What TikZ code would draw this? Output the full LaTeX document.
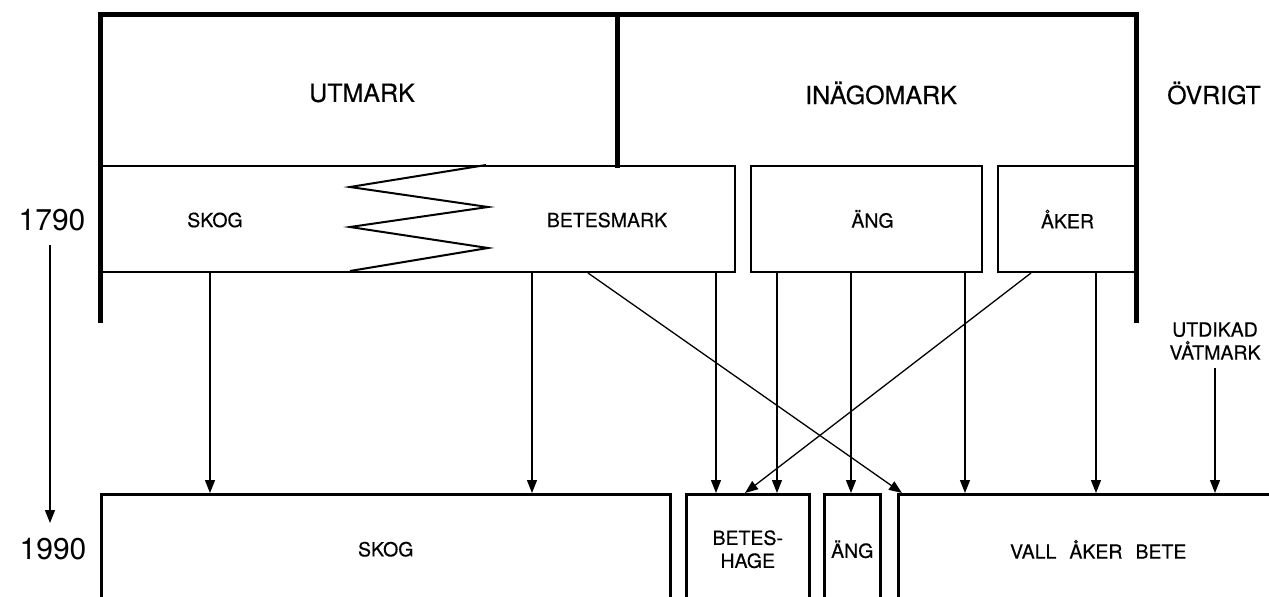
\documentclass[tikz,border=0pt]{standalone}
\usepackage{fontspec}
\setmainfont{TeX Gyre Heros}[FakeBold=0.4]
\newfontfamily\yearfont{TeX Gyre Heros}
\usetikzlibrary{arrows.meta}
\tikzset{
  big/.style={font=\fontsize{25}{28}\selectfont},
  lab/.style={font=\fontsize{19.5}{23}\selectfont},
  yr/.style={font=\yearfont\fontsize{30}{32}\selectfont},
  boxa/.style={draw, line width=2pt, inner sep=0pt, anchor=north west, lab},
  frame/.style={line width=5pt, line cap=rect},
  arr/.style={line width=1.3pt, -{Triangle[length=13pt,width=10pt]}},
  zig/.style={line width=2pt, line join=miter}
}
\begin{document}
\begin{tikzpicture}[x=1pt,y=-1pt]
\clip (0,0) rectangle (1269,597);
\fill[white] (0,0) rectangle (1269,597);
% top row boxes
\node[boxa, minimum width=634pt, minimum height=106pt] (row) at (100,165) {};
\node[boxa, minimum width=231pt, minimum height=106pt] (ang1) at (750,165) {\hspace{12pt}ÄNG};
\node[boxa, minimum width=139pt, minimum height=106pt] (aker) at (997,165) {ÅKER};
% zigzag
\draw[zig] (486,165) -- (350,187) -- (488,207) -- (350,227) -- (488,248) -- (350,271);
% thick frame
\draw[frame] (100,320) -- (100,14) -- (1136,14) -- (1136,320);
\draw[frame] (617,14) -- (617,165);
% labels
\node[big] (utmark) at (362,93) {UTMARK};
\node[big] (inago) at (881,93) {INÄGOMARK};
\node[big] (ovrigt) at (1214,93) {ÖVRIGT};
\node[lab] (skog1) at (215,220) {SKOG};
\node[lab] (betes) at (607,220) {BETESMARK};
\node[yr] (y1790) at (52,220) {1790};
\node[yr] (y1990) at (53,549) {1990};
\node[lab, align=center, inner sep=0pt] (utdikad) at (1215,341) {UTDIKAD\\VÅTMARK};
% bottom boxes
\node[boxa, line width=2.5pt, minimum width=569pt, minimum height=110pt] (skog2) at (100,493) {SKOG};
\node[boxa, line width=2.5pt, minimum width=123pt, minimum height=110pt, align=center] (hage) at (685,493) {BETES-\\HAGE};
\node[boxa, line width=2.5pt, minimum width=56pt, minimum height=110pt] (ang2) at (823,493) {ÄNG};
\node[boxa, line width=2.5pt, minimum width=400pt, minimum height=110pt] (vall) at (897,493) {VALL\hspace{13pt}ÅKER\hspace{13pt}BETE};
% time arrow
\coordinate (t0) at (50,245);
\coordinate (t1) at (50,523);
\draw[arr] (t0) -- (t1);
% arrows
\draw[arr] ([xshift=110pt]row.south west) -- ([xshift=110pt]skog2.north west);
\draw[arr] ([xshift=432pt]row.south west) -- ([xshift=432pt]skog2.north west);
\draw[arr] ([xshift=488pt]row.south west) -- ([xshift=5pt]vall.north west);
\draw[arr] ([xshift=616pt]row.south west) -- ([xshift=31pt]hage.north west);
\draw[arr] ([xshift=27pt]ang1.south west) -- ([xshift=92pt]hage.north west);
\draw[arr] ([xshift=101pt]ang1.south west) -- ([xshift=28pt]ang2.north west);
\draw[arr] ([xshift=215pt]ang1.south west) -- ([xshift=68pt]vall.north west);
\draw[arr] ([xshift=34pt]aker.south west) -- ([xshift=60pt]hage.north west);
\draw[arr] ([xshift=99pt]aker.south west) -- ([xshift=199pt]vall.north west);
\draw[arr] ([yshift=-8pt]utdikad.south) -- (utdikad.south |- vall.north);
\end{tikzpicture}
\end{document}
